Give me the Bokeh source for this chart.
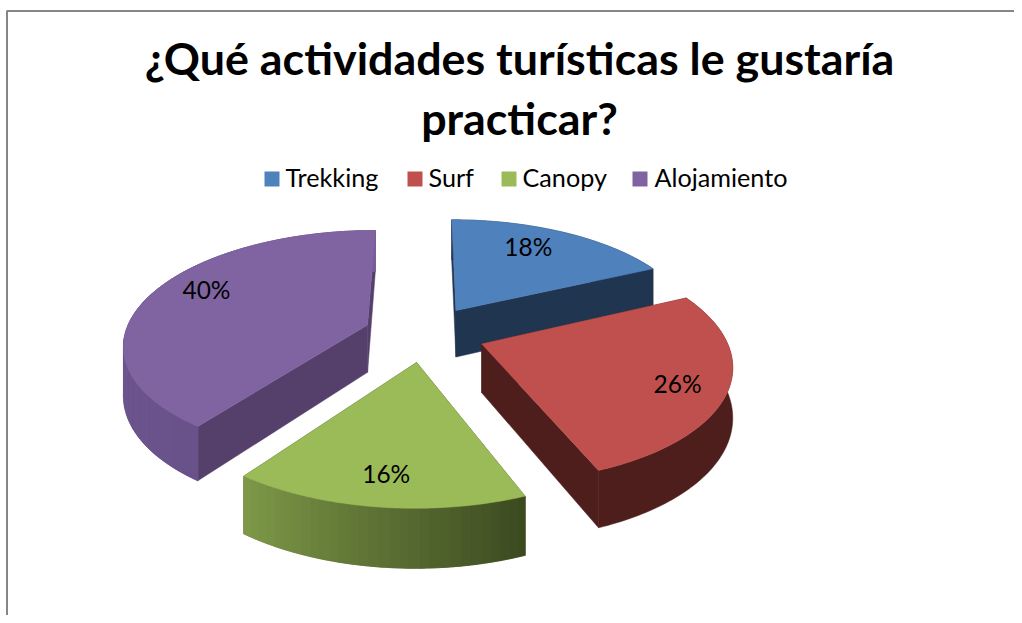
import numpy as np
from bokeh.core.properties import value
from bokeh.embed import file_html
from bokeh.models import Range1d
from bokeh.plotting import figure
from bokeh.resources import INLINE

title_lines = ["¿Qué actividades turísticas le gustaría", "practicar?"]
categories = ["Trekking", "Surf", "Canopy", "Alojamiento"]
shares = [18, 26, 16, 40]
percent_labels = ["18%", "26%", "16%", "40%"]
top_colors = ["#4f81bd", "#c0504d", "#9bbb59", "#8064a2"]
cut_colors = ["#20354f", "#4e1e1c", "#46562a", "#553f6b"]
side_start = ["#20354f", "#4e1e1c", "#3c4a20", "#69518a"]
side_end = ["#20354f", "#4e1e1c", "#7d9848", "#775c98"]

# projection of the tilted, exploded pie
CX, CY, R, EXPLODE, DEPTH, PERSP, TILT, WIDEN = 424, 333, 240, 60, 48, 1500, 0.467, 1.01
STEPS = 30
W, H = 1014, 615


def project(x, y, z=0.0):
    s = 1.0 / (1.0 - np.asarray(y, dtype=float) / PERSP)
    return CX + WIDEN * np.asarray(x) * s, CY + (TILT * np.asarray(y) + z) * s


def mix(a, b, t):
    ca = [int(a[i:i + 2], 16) for i in (1, 3, 5)]
    cb = [int(b[i:i + 2], 16) for i in (1, 3, 5)]
    return "#%02x%02x%02x" % tuple(round(p + (q - p) * t) for p, q in zip(ca, cb))


p = figure(width=W, height=H, x_range=Range1d(0, W), y_range=Range1d(H, 0),
           toolbar_location=None, output_backend="svg", min_border=0,
           outline_line_color=None, margin=0)
p.axis.visible = False
p.grid.visible = False

# chart frame (only top and left are in the crop)
p.line([6.5, 6.5, W], [H, 10.5, 10.5], line_color="#868686", line_width=2)

total = sum(shares)
edges = np.cumsum([0] + shares) / total * 2 * np.pi
slices = {}
for i in range(len(shares)):
    a0, a1 = edges[i], edges[i + 1]
    mid = (a0 + a1) / 2
    ax, ay = EXPLODE * np.sin(mid), -EXPLODE * np.cos(mid)
    th = np.linspace(a0, a1, 90)
    ox, oy = ax + R * np.sin(th), ay - R * np.cos(th)
    slices[i] = (ax, ay, th, ox, oy)

# back to front
for i in [0, 3, 1, 2]:
    ax, ay, th, ox, oy = slices[i]
    # radial cut faces
    for k in (0, -1):
        xs = np.array([ax, ox[k], ox[k], ax])
        ys = np.array([ay, oy[k], oy[k], ay])
        zs = np.array([0, 0, DEPTH, DEPTH])
        sx, sy = project(xs, ys, zs)
        p.patch(sx, sy, fill_color=cut_colors[i], line_color=cut_colors[i], line_width=0.5)
    # outer wall: solid base, then a stepped gradient over it
    sx0, sy0 = project(ox, oy, 0)
    sx1, sy1 = project(ox, oy, DEPTH)
    base = mix(side_start[i], side_end[i], 0.5)
    p.patch(np.r_[sx0, sx1[::-1]], np.r_[sy0, sy1[::-1]], fill_color=base, line_color=base, line_width=0.5)
    if side_start[i] != side_end[i]:
        idx = np.linspace(0, len(th) - 1, STEPS + 1).astype(int)
        for j in range(STEPS):
            c = mix(side_start[i], side_end[i], j / (STEPS - 1))
            a, b = idx[j], idx[j + 1] + 1
            p.patch(np.r_[sx0[a:b], sx1[a:b][::-1]], np.r_[sy0[a:b], sy1[a:b][::-1]],
                    fill_color=c, line_color=c, line_width=0.8)
    # top face
    tx, ty = project(np.r_[ax, ox], np.r_[ay, oy], 0)
    p.patch(tx, ty, fill_color=top_colors[i], line_color=top_colors[i], line_width=0.5)

# percentage labels, projected from each slice's middle
label_radius = [0.76, 0.81, 0.80, 0.80]
label_shift = [-0.08, 0.035, 0.0, 0.13]
lx, ly = [], []
for i in range(4):
    ax, ay, th, ox, oy = slices[i]
    m = (edges[i] + edges[i + 1]) / 2 + label_shift[i]
    sx, sy = project(ax + label_radius[i] * R * np.sin(m), ay - label_radius[i] * R * np.cos(m), 0)
    lx.append(float(sx))
    ly.append(float(sy))
p.text(lx, ly, text=percent_labels, text_font=value("Lato"), text_font_size="24.5px",
       text_color="#000000", text_align="center", text_baseline="middle")

# title
p.text([519, 519], [57, 117], text=title_lines, text_font=value("Lato"), text_font_style="bold",
       text_font_size="44.8px", text_color="#000000", text_align="center", text_baseline="middle")

# legend
swatch_x = [264, 407, 501, 632]
text_x = [285, 428, 522, 654]
p.rect([x + 7.5 for x in swatch_x], [178.5] * 4, width=15, height=15, fill_color=top_colors, line_color=None)
p.text(text_x, [176] * 4, text=categories, text_font=value("Lato"), text_font_size="25.2px",
       text_color="#000000", text_align="left", text_baseline="middle")

open("out.html", "w").write(file_html(p, INLINE))
